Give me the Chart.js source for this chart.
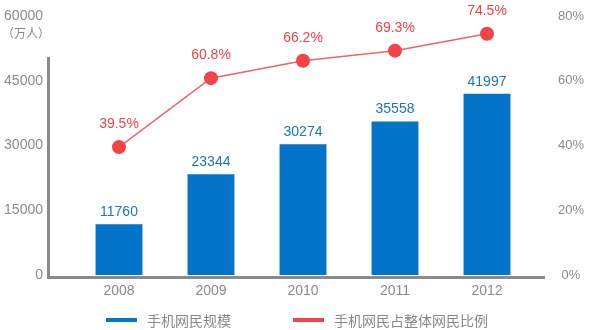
<!DOCTYPE html>
<html>
<head>
<meta charset="utf-8">
<script src="https://cdn.jsdelivr.net/npm/chart.js@4"></script>
<style>
  html, body { margin: 0; padding: 0; background: #fff; }
  #wrap { position: relative; width: 590px; height: 330px; }
  #legend { position: absolute; left: 0; top: 310px; width: 590px; height: 20px;
    font: 14px "Noto Sans CJK SC", sans-serif; color: #888; }
  .lg { position: absolute; top: 0; line-height: 20px; white-space: nowrap; }
  .lg i { position: absolute; top: 8px; width: 31px; height: 4px; }
  .lg span { position: absolute; left: 41px; top: 0; }
</style>
</head>
<body>
<div id="wrap">
  <canvas id="chart" width="590" height="330"></canvas>
  <div id="legend"></div>
</div>
<script>
'use strict';

const years = ['2008', '2009', '2010', '2011', '2012'];
const users = [11760, 23344, 30274, 35558, 41997];     // 万人
const share = [39.5, 60.8, 66.2, 69.3, 74.5];           // %
const leftTicks = [0, 15000, 30000, 45000, 60000];
const rightTicks = [0, 20, 40, 60, 80];

const BLUE = '#0474c8';
const RED = '#f4424a';
const GREY = '#8a8a8a';
const NUM_FONT = '"Liberation Sans", Arial, sans-serif';

const legendItems = [
  { label: '手机网民规模', color: BLUE, left: 106 },
  { label: '手机网民占整体网民比例', color: RED, left: 293 },
];

function renderLegend() {
  const el = document.getElementById('legend');
  el.innerHTML = legendItems.map(it => `
    <div class="lg" style="left:${it.left}px">
      <i style="background:${it.color}"></i><span>${it.label}</span>
    </div>`).join('');
}

// y axis tick padding would otherwise push the chart area down
function fitY(width) {
  return s => { s.width = width; s.paddingTop = 8; s.paddingBottom = 8; };
}

// frame lines + unit text + value labels
const decor = {
  id: 'decor',
  beforeDatasetsDraw(chart) {
    const { ctx } = chart;
    const y0 = chart.scales.y.getPixelForValue(0);
    ctx.save();
    ctx.fillStyle = GREY;
    ctx.fillRect(47, 57, 3, y0 + 3 - 57);
    ctx.fillRect(47, y0 + 1, 498, 3);
    ctx.font = '12px "Noto Sans CJK SC", sans-serif';
    ctx.textAlign = 'center';
    ctx.textBaseline = 'middle';
    ctx.fillText('（万人）', 26, 33);
    ctx.restore();
  },
  afterDatasetsDraw(chart) {
    const { ctx } = chart;
    ctx.save();
    ctx.textAlign = 'center';
    ctx.textBaseline = 'middle';
    ctx.font = '14px ' + NUM_FONT;
    ctx.fillStyle = '#1a75c5';
    chart.getDatasetMeta(1).data.forEach((bar, i) => {
      ctx.fillText(String(users[i]), bar.x, bar.y - 12);
    });
    ctx.fillStyle = RED;
    chart.getDatasetMeta(0).data.forEach((pt, i) => {
      ctx.fillText(share[i].toFixed(1) + '%', pt.x, pt.y - 23);
    });
    ctx.restore();
  },
};

function renderChart() {
  const ctx = document.getElementById('chart');
  new Chart(ctx, {
    data: {
      labels: years,
      datasets: [
        {
          type: 'line',
          label: '手机网民占整体网民比例',
          data: share,
          yAxisID: 'y1',
          borderColor: '#f26464',
          borderWidth: 1.5,
          pointRadius: 7,
          pointBackgroundColor: RED,
          pointBorderWidth: 0,
          tension: 0,
          clip: false,
          order: 0,
        },
        {
          type: 'bar',
          label: '手机网民规模',
          data: users,
          yAxisID: 'y',
          backgroundColor: BLUE,
          categoryPercentage: 1,
          barPercentage: 0.51,
          order: 1,
        },
      ],
    },
    options: {
      responsive: false,
      devicePixelRatio: 1,
      animation: false,
      layout: { padding: { top: 16, left: 0, right: 0, bottom: 0 } },
      plugins: { legend: { display: false }, tooltip: { enabled: false } },
      scales: {
        x: {
          grid: { display: false, drawTicks: false },
          border: { display: false },
          ticks: { color: GREY, font: { size: 14, family: NUM_FONT }, padding: 8 },
          afterFit: s => { s.height = 55; },
        },
        y: {
          position: 'left',
          min: 0,
          max: 60000,
          afterBuildTicks: s => { s.ticks = leftTicks.map(v => ({ value: v })); },
          grid: { display: false, drawTicks: false },
          border: { display: false },
          ticks: {
            color: GREY,
            font: { size: 14, family: NUM_FONT },
            padding: 30,
            callback: v => String(v),
          },
          afterFit: fitY(73),
        },
        y1: {
          position: 'right',
          min: 0,
          max: 80,
          afterBuildTicks: s => { s.ticks = rightTicks.map(v => ({ value: v })); },
          grid: { display: false, drawTicks: false },
          border: { display: false },
          ticks: {
            color: GREY,
            font: { size: 13, family: NUM_FONT },
            padding: 25,
            crossAlign: 'center',
            callback: v => v + '%',
          },
          afterFit: fitY(57),
        },
      },
    },
    plugins: [decor],
  });
}

renderLegend();
renderChart();
</script>
</body>
</html>
